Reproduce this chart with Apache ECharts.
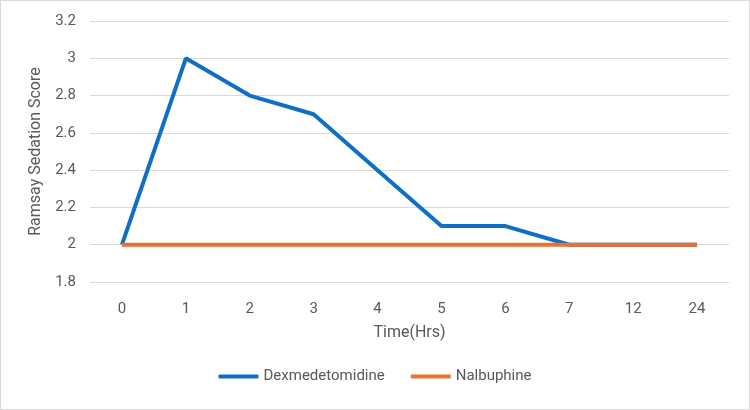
<!DOCTYPE html>
<html lang="en">
<head>
    <meta charset="UTF-8">
    <title>Ramsay Sedation Score</title>
    <style>
        html, body { margin: 0; padding: 0; background: #fff; }
        #chart { width: 748px; height: 408px; border: 1px solid #d9d9d9; }
    </style>
</head>
<body>
<div id="chart"></div>
<script src="https://cdn.jsdelivr.net/npm/echarts@6/dist/echarts.min.js"></script>
<script>
    var categories = ['0', '1', '2', '3', '4', '5', '6', '7', '12', '24'];
    var dexData = [2, 3, 2.8, 2.7, 2.4, 2.1, 2.1, 2, 2, 2];
    var nalData = [2, 2, 2, 2, 2, 2, 2, 2, 2, 2];

    var textColor = '#595959';
    var chart = echarts.init(document.getElementById('chart'));

    var option = {
        textStyle: { fontFamily: 'Roboto, "Open Sans", sans-serif' },
        grid: { left: 89, right: 20, top: 20, bottom: 127 },
        legend: {
            bottom: 20,
            left: 'center',
            itemWidth: 40,
            itemHeight: 4,
            itemGap: 26,
            icon: 'roundRect',
            textStyle: { color: textColor, fontSize: 15 },
            data: ['Dexmedetomidine', 'Nalbuphine']
        },
        xAxis: {
            type: 'category',
            data: categories,
            boundaryGap: true,
            name: 'Time(Hrs)',
            nameLocation: 'middle',
            nameGap: 43,
            nameTextStyle: { color: textColor, fontSize: 16 },
            axisLine: { show: false },
            axisTick: { show: false },
            axisLabel: { color: textColor, fontSize: 15, margin: 20 }
        },
        yAxis: {
            type: 'value',
            min: 1.8,
            max: 3.2,
            interval: 0.2,
            name: 'Ramsay Sedation Score',
            nameLocation: 'middle',
            nameGap: 45,
            nameTextStyle: { color: textColor, fontSize: 16 },
            axisLine: { show: false },
            axisTick: { show: false },
            axisLabel: {
                color: textColor,
                fontSize: 15,
                margin: 14,
                formatter: function (v) { return String(Math.round(v * 10) / 10); }
            },
            splitLine: { lineStyle: { color: '#d9d9d9', width: 1 } }
        },
        series: [
            {
                name: 'Dexmedetomidine',
                type: 'line',
                data: dexData,
                symbol: 'none',
                color: '#0F6FC6',
                lineStyle: { width: 4, color: '#0F6FC6' },
                z: 2
            },
            {
                name: 'Nalbuphine',
                type: 'line',
                data: nalData,
                symbol: 'none',
                color: '#E97132',
                lineStyle: { width: 4, color: '#E97132' },
                z: 3
            }
        ]
    };

    chart.setOption(option);
</script>
</body>
</html>
